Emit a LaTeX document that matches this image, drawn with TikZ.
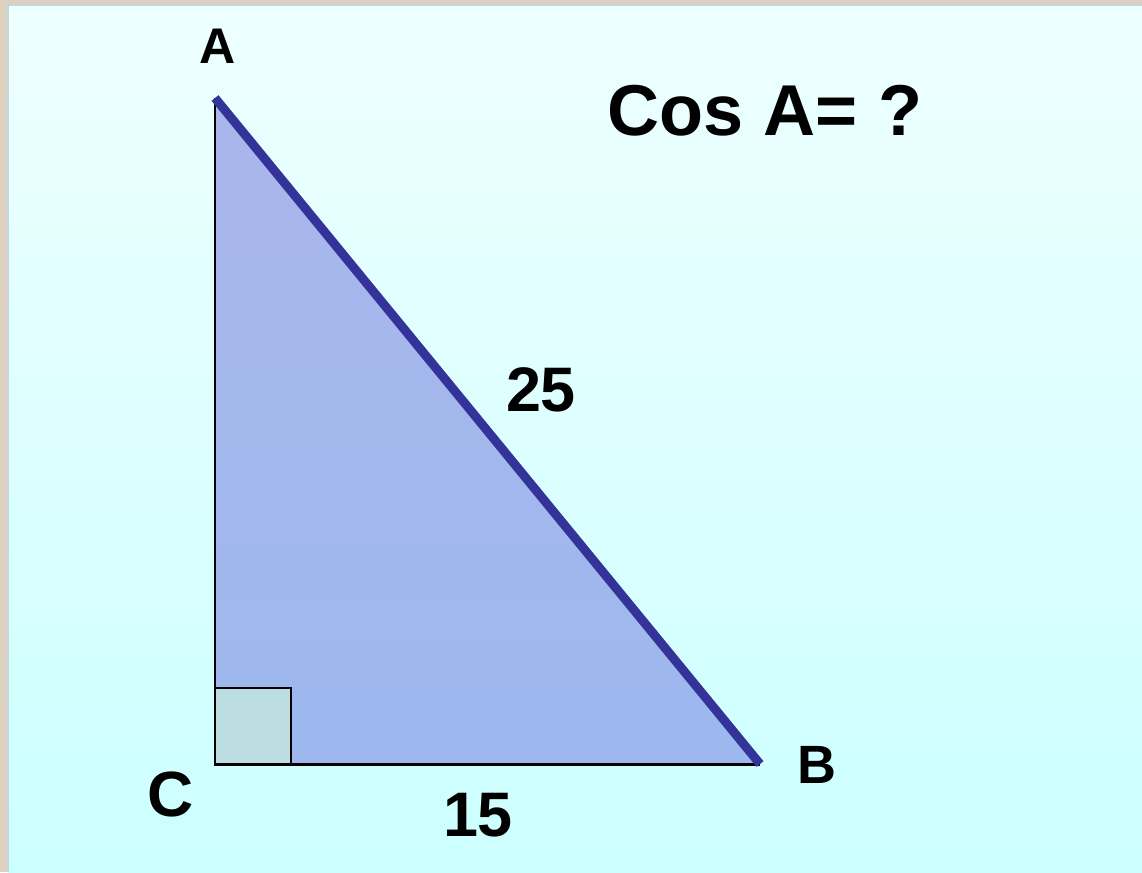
\documentclass[tikz,border=0pt]{standalone}
\usepackage{fontspec}
\setmainfont{Liberation Sans}
\usetikzlibrary{positioning,calc}
\definecolor{frame}{RGB}{222,208,190}
\definecolor{paneltop}{RGB}{238,255,255}
\definecolor{panelbot}{RGB}{204,255,255}
\definecolor{triTop}{RGB}{170,182,236}
\definecolor{triBot}{RGB}{156,184,238}
\definecolor{hypo}{RGB}{51,51,153}
\definecolor{sqfill}{RGB}{188,222,226}
\tikzset{
  every picture/.style={line width=0.75pt},
  lbl/.style={font=\bfseries, inner sep=0pt},
}

\begin{document}
\begin{tikzpicture}[x=0.02cm, y=-0.02cm]
    % 画布与背景
    \useasboundingbox (0,0) rectangle (1142,872);
    \fill[frame] (0,0) rectangle (1142,872);
    \shade[top color=paneltop, bottom color=panelbot] (8,5) rectangle (1142,872);
    \draw[cyan!30!gray!40, line width=1pt] (8,872) -- (8,5) -- (1142,5);

    % 顶点
    \coordinate (A) at (215,98);
    \coordinate (C) at (215,764);
    \coordinate (B) at (760,764);

    % 填充三角形
    \shade[top color=triTop, bottom color=triBot] (A) -- (B) -- (C) -- cycle;

    % 直角标记
    \coordinate (Sq) at (291,688);
    \draw[fill=sqfill, line width=1.1pt] (C) rectangle (Sq);

    % 两条直角边
    \draw[line width=1.7pt] (B) -- (C) -- (A);

    % 斜边
    \draw[hypo, line width=5.1pt] (A) -- (B);

    % 顶点标注
    \node[lbl, font=\fontsize{28.5}{30}\selectfont\bfseries] (labA) at (218,46) {A};
    \node[lbl, font=\fontsize{30.7}{32}\selectfont\bfseries] (labB) at (817,765) {B};
    \node[lbl, font=\fontsize{36.4}{38}\selectfont\bfseries] (labC) at (171,794) {C};

    % 边长标注
    \node[lbl, font=\fontsize{35.8}{38}\selectfont\bfseries] (hyp) at (541,390) {25};
    \node[lbl, font=\fontsize{35.8}{38}\selectfont\bfseries] (leg) at (478,815) {15};

    % 问题
    \node[lbl, font=\fontsize{41}{44}\selectfont\bfseries] (q) at (765,111) {Cos A= ?};
\end{tikzpicture}
\end{document}
